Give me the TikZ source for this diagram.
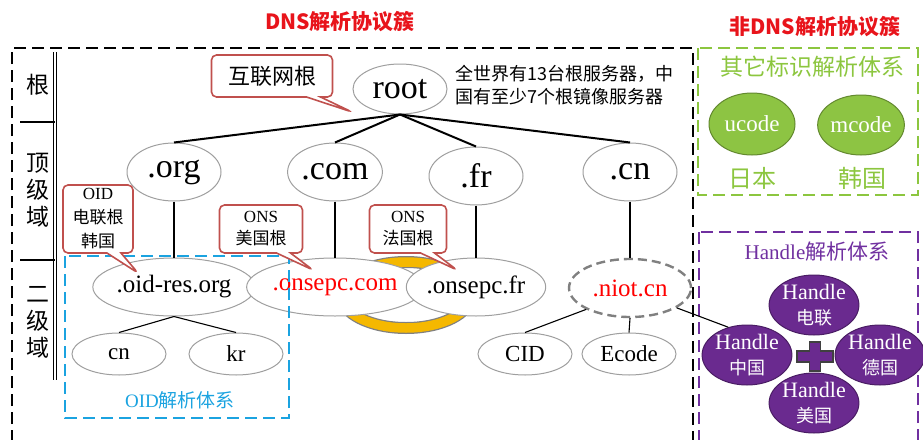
\documentclass[tikz,border=0pt]{standalone}
\usepackage{fontspec}
\setmainfont{Noto Sans CJK SC}
\newfontfamily\cjk{Noto Sans CJK SC}
\newfontfamily\tnr{Liberation Serif}
\usetikzlibrary{shapes.geometric,shapes.callouts}
\definecolor{calloutred}{HTML}{C0504D}
\definecolor{titlered}{HTML}{E8141B}
\definecolor{oidblue}{HTML}{1BA3E0}
\definecolor{idgreen}{HTML}{8CC63F}
\definecolor{leafgreen}{HTML}{8DC443}
\definecolor{hdlpurple}{HTML}{7030A0}
\definecolor{hdlfill}{HTML}{6A2A8F}
\definecolor{ringgold}{HTML}{F5B800}
\newcommand{\fs}[2]{\fontsize{#1}{#2}\selectfont}
\pgfdeclareradialshading{domshade}{\pgfpoint{0bp}{0bp}}%
  {color(0bp)=(white); color(30bp)=(white); color(50bp)=(gray!28); color(70bp)=(gray!28)}

\tikzset{
  dom/.style={ellipse, draw=gray!75, shading=domshade, line width=1, inner sep=0},
  topdom/.style={dom, minimum width=94, minimum height=58, font=\tnr\fs{34}{34}},
  secdom/.style={dom, minimum width=122, minimum height=58, font=\tnr\fs{25}{25}},
  leafdom/.style={dom, minimum width=94, minimum height=42, font=\tnr\fs{23}{23}},
  idnode/.style={ellipse, draw=leafgreen!70!black, fill=leafgreen, text=white, line width=1,
                 inner sep=0, minimum width=86, minimum height=62, font=\tnr\fs{23}{23}},
  hdlnode/.style={ellipse, draw=hdlfill!70!black, fill=hdlfill, text=white, line width=1,
                  inner sep=0, minimum width=86, minimum height=60, align=center, font=\tnr\fs{22}{25}},
  note/.style={rectangle callout, draw=calloutred, line width=1.6, fill=white, rounded corners=5,
               align=center, inner sep=0, callout pointer width=14},
  dashbox/.style={line width=2.4, dash pattern=on 12pt off 6pt},
  tree/.style={line width=2},
  twig/.style={line width=1.1},
}

\begin{document}
\begin{tikzpicture}[x=1pt,y=-1pt]
    \clip (0,0) rectangle (923,439);

    %% titles
    \node[font=\bfseries\fs{21}{21}, text=titlered] (dnstitle) at (340,22) {DNS解析协议簇};
    \node[font=\bfseries\fs{21}{21}, text=titlered] (nondns) at (815,27) {非DNS解析协议簇};

    %% DNS frame and levels
    \draw[dashbox] (12,460) -- (12,48) -- (693,48) -- (693,460);
    \draw[double, double distance=2.2, line width=0.9] (55,52) -- (55,380);
    \draw[line width=1.5] (20,122) -- (55,122);
    \draw[line width=1.5] (20,260) -- (55,260);
    \node[font=\fs{23}{23}] (lvroot) at (38,85) {根};
    \node[font=\fs{23}{27}, align=center] (lvtop) at (38,190) {顶\\级\\域};
    \node[font=\fs{23}{27}, align=center] (lvsec) at (38,322) {二\\级\\域};

    %% ring between the two ONS roots
    \draw[line width=12, black!50] (406,295) ellipse (65 and 33);
    \draw[line width=9.5, ringgold] (406,295) ellipse (65 and 33);

    %% domain tree
    \node[dom, minimum width=94, minimum height=50, font=\tnr\fs{34}{34}] (root) at (400,89) {root};
    \node[topdom] (org) at (174,172) {.org};
    \node[topdom] (com) at (335,172) {.com};
    \node[topdom] (fr) at (476,176) {.fr};
    \node[topdom] (cn) at (630,172) {.cn};
    \foreach \t in {org,com,fr,cn}
        \draw[tree] (root.south) -- (\t.north);

    \node[secdom] (oidres) at (174,287) {.oid-res.org};
    \node[secdom, minimum width=138, text=red] (onscom) at (335,287) {.onsepc.com};
    \node[secdom, minimum width=120] (onsfr) at (476,287) {.onsepc.fr};
    \node[secdom, draw=gray, line width=2.4, dash pattern=on 9pt off 5pt, text=red] (niot) at (630,288) {.niot.cn};
    \draw[tree] (org.south) -- (oidres.north);
    \draw[tree] (com.south) -- (onscom.north);
    \draw[tree] (fr.south) -- (onsfr.north);
    \draw[tree] (cn.south) -- (niot.north);

    \node[leafdom] (oidcn) at (119,354) {cn};
    \node[leafdom] (kr) at (236,354) {kr};
    \node[leafdom] (cid) at (525,354) {CID};
    \node[leafdom] (ecode) at (629,354) {Ecode};
    \draw[twig] (oidres.south) -- (oidcn.north);
    \draw[twig] (oidres.south) -- (kr.north);
    \draw[twig] (niot.206) -- (cid.north);
    \draw[twig] (niot.south) -- (ecode.north);

    \node[anchor=west, align=left, font=\fs{18}{23}] (rootnote) at (452,85)
        {全世界有13台根服务器，中\\国有至少7个根镜像服务器};

    %% OID system
    \draw[dashbox, oidblue] (65,256) rectangle (289,418);
    \node[text=oidblue, font=\fs{19}{19}] (oidlabel) at (180,400) {{\tnr OID}解析体系};

    %% callouts
    \coordinate (tipnet) at (352,112);
    \coordinate (tipoid) at (138,273);
    \coordinate (tipus) at (313,270);
    \coordinate (tipfr) at (457,270);
    \node[note, minimum width=121, minimum height=42, font=\fs{22}{22},
          callout absolute pointer={(tipnet)}] (netroot) at (272,76) {互联网根};
    \node[note, minimum width=70, minimum height=68, font=\fs{17}{24},
          callout absolute pointer={(tipoid)}] (oidroot) at (98,219) {{\tnr OID}\\电联根\\韩国};
    \node[note, minimum width=83, minimum height=48, font=\fs{17}{22},
          callout absolute pointer={(tipus)}] (usroot) at (261,229) {{\tnr ONS}\\美国根};
    \node[note, minimum width=77, minimum height=48, font=\fs{17}{22},
          callout absolute pointer={(tipfr)}] (frroot) at (408,229) {{\tnr ONS}\\法国根};

    %% other identifier systems
    \draw[dashbox, idgreen] (698,48) rectangle (918,195);
    \node[text=idgreen, font=\fs{23}{23}] (idlabel) at (812,67) {其它标识解析体系};
    \node[idnode] (ucode) at (752,124) {ucode};
    \node[idnode, minimum width=84, minimum height=60] (mcode) at (861,125) {mcode};
    \node[text=idgreen, font=\fs{24}{24}] (jp) at (752,178) {日本};
    \node[text=idgreen, font=\fs{24}{24}] (kor) at (862,178) {韩国};

    %% Handle system
    \draw[dashbox, hdlpurple] (699,232) rectangle (918,470);
    \node[text=hdlpurple, font=\fs{21}{21}] (hdllabel) at (817,252) {{\tnr Handle}解析体系};
    \node[hdlnode] (hdt) at (814,305) {Handle\\{\cjk\fs{18}{18}电联}};
    \node[hdlnode] (hcn) at (747,355) {Handle\\{\cjk\fs{18}{18}中国}};
    \node[hdlnode] (hde) at (880,355) {Handle\\{\cjk\fs{18}{18}德国}};
    \node[hdlnode] (hus) at (814,403) {Handle\\{\cjk\fs{18}{18}美国}};
    \filldraw[fill=hdlfill, draw=black!75, line width=1.2]
        (797,351) -- (809.5,351) -- (809.5,342) -- (820.5,342) -- (820.5,351) -- (833,351)
        -- (833,362) -- (820.5,362) -- (820.5,371) -- (809.5,371) -- (809.5,362) -- (797,362) -- cycle;
    \draw[twig] (niot.-23) -- (hcn.124);
\end{tikzpicture}
\end{document}
